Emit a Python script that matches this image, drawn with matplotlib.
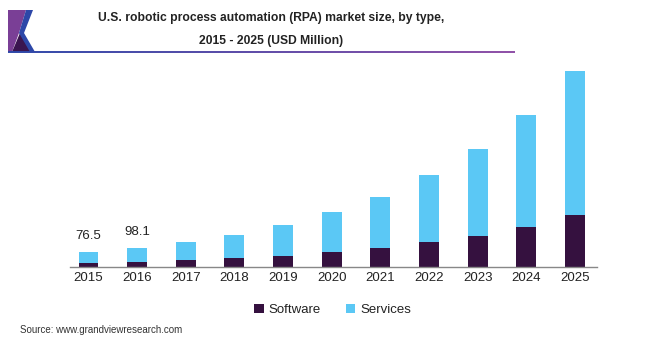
import numpy as np
import matplotlib
matplotlib.use("Agg")
import matplotlib.pyplot as plt
from matplotlib.patches import Polygon
from matplotlib.collections import LineCollection

plt.rcParams['font.family'] = ['Liberation Sans', 'DejaVu Sans']

years = ['2015', '2016', '2017', '2018', '2019', '2020',
         '2021', '2022', '2023', '2024', '2025']
software = [18, 24, 35, 46, 58, 76, 101, 129, 163, 210, 274]
services = [58.5, 74.1, 96, 124, 163, 214, 270, 355, 459, 594, 763]
value_labels = ['76.5', '98.1']  # only first two bars are labelled

W, H = 667, 343
sw_color = '#35113f'
sv_color = '#5bc8f5'


def fp(x, y):
    # pixel (from top-left) -> figure fraction
    return (x / W, 1 - y / H)


fig = plt.figure(figsize=(W / 100, H / 100), dpi=100)
fig.patch.set_facecolor('white')

# chart area
ax = fig.add_axes([70 / W, (H - 266.7) / H, (597 - 70) / W, (266.7 - 60) / H])
x = np.arange(len(years))
ax.bar(x, software, width=0.41, color=sw_color, label='Software', zorder=2)
ax.bar(x, services, width=0.41, bottom=software, color=sv_color,
       label='Services', zorder=2)
totals = np.array(software) + np.array(services)
for i, lab in enumerate(value_labels):
    ax.text(x[i], totals[i] + 52, lab, ha='center', va='bottom',
            fontsize=9.5, color='#222222')

ax.set_xlim(-0.38, 10.45)
ax.set_ylim(0, 1095)
ax.set_xticks(x)
ax.set_xticklabels(years, fontsize=9.5, color='#222222')
ax.tick_params(axis='x', length=0, pad=4)
ax.set_yticks([])
for s in ['top', 'right', 'left']:
    ax.spines[s].set_visible(False)
ax.spines['bottom'].set_color('#888888')
ax.spines['bottom'].set_linewidth(1)

leg = fig.legend(loc='center', bbox_to_anchor=(333 / W, 1 - 310 / H),
                 ncol=2, frameon=False, fontsize=9.5, handlelength=0.7,
                 handleheight=0.7, handletextpad=0.4, columnspacing=1.9)
for t in leg.get_texts():
    t.set_color('#222222')

# title
fig.text(271 / W, 1 - 18.5 / H,
         'U.S. robotic process automation (RPA) market size, by type,',
         ha='center', va='center', fontsize=8.7, fontweight='bold',
         color='#222222')
fig.text(271 / W, 1 - 41 / H, '2015 - 2025 (USD Million)',
         ha='center', va='center', fontsize=8.7, fontweight='bold',
         color='#222222')

# logo
fig.patches.append(Polygon([fp(8, 10), fp(26, 10), fp(19, 33), fp(12, 52), fp(8, 52)],
                           closed=True, transform=fig.transFigure,
                           facecolor='#7a3f96', edgecolor='none'))
fig.patches.append(Polygon([fp(20, 33), fp(12, 52), fp(31, 52)],
                           closed=True, transform=fig.transFigure,
                           facecolor='#3a1550', edgecolor='none'))
fig.patches.append(Polygon([fp(26, 10), fp(33, 10), fp(24, 33), fp(35, 52),
                            fp(30, 52), fp(19, 33)],
                           closed=True, transform=fig.transFigure,
                           facecolor='#2d47a8', edgecolor='none'))

# gradient rule under title
xs = np.linspace(8, 515, 120)
segs = [[fp(xs[i], 51.5), fp(xs[i + 1], 51.5)] for i in range(len(xs) - 1)]
c0 = np.array([0x2d, 0x47, 0xa8]) / 255
c1 = np.array([0x8e, 0x4e, 0xa6]) / 255
cols = [c0 + (c1 - c0) * t for t in np.linspace(0, 1, len(segs))]
fig.add_artist(LineCollection(segs, colors=cols, linewidths=1.4,
                              transform=fig.transFigure))

fig.text(20 / W, 1 - 330 / H, 'Source: www.grandviewresearch.com',
         ha='left', va='center', fontsize=7, color='#333333')

fig.savefig('out.png', dpi=100, facecolor='white')
